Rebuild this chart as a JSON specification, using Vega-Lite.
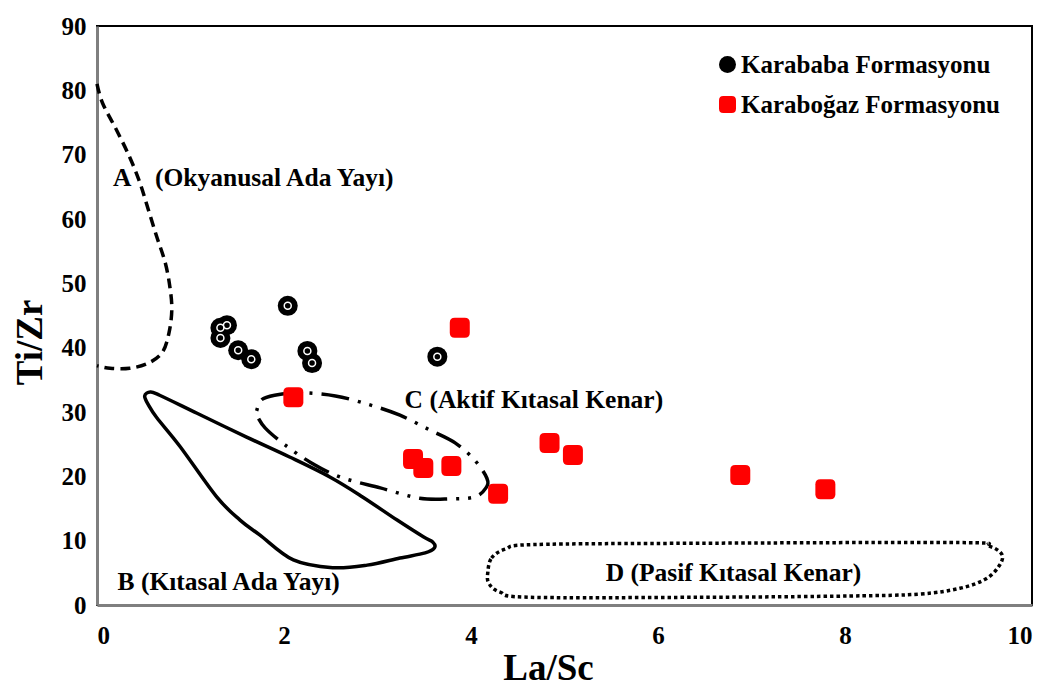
{
  "$schema": "https://vega.github.io/schema/vega-lite/v6.json",
  "width": 935,
  "height": 579,
  "autosize": "none",
  "padding": {"left": 97, "top": 26, "right": 22, "bottom": 86},
  "background": "white",
  "config": {
    "font": "Liberation Serif",
    "view": {"stroke": "black", "strokeWidth": 2},
    "axis": {
      "labelFont": "Liberation Serif",
      "labelFontWeight": "bold",
      "labelFontSize": 25,
      "labelColor": "black",
      "titleFont": "Liberation Serif",
      "titleFontWeight": "bold",
      "titleFontSize": 37,
      "titleColor": "black",
      "ticks": false,
      "grid": false,
      "domainColor": "#7f7f7f",
      "domainWidth": 3
    }
  },
  "datasets": {
    "samples": [
      {"formation": "Karababa Formasyonu", "la_sc": 1.32, "ti_zr": 43.1},
      {"formation": "Karababa Formasyonu", "la_sc": 1.39, "ti_zr": 43.5},
      {"formation": "Karababa Formasyonu", "la_sc": 1.32, "ti_zr": 41.5},
      {"formation": "Karababa Formasyonu", "la_sc": 1.51, "ti_zr": 39.6},
      {"formation": "Karababa Formasyonu", "la_sc": 1.65, "ti_zr": 38.2},
      {"formation": "Karababa Formasyonu", "la_sc": 2.04, "ti_zr": 46.5},
      {"formation": "Karababa Formasyonu", "la_sc": 2.25, "ti_zr": 39.5},
      {"formation": "Karababa Formasyonu", "la_sc": 2.3, "ti_zr": 37.6},
      {"formation": "Karababa Formasyonu", "la_sc": 3.64, "ti_zr": 38.6},
      {"formation": "Karaboğaz Formasyonu", "la_sc": 3.88, "ti_zr": 43.1},
      {"formation": "Karaboğaz Formasyonu", "la_sc": 2.1, "ti_zr": 32.3},
      {"formation": "Karaboğaz Formasyonu", "la_sc": 3.38, "ti_zr": 22.7},
      {"formation": "Karaboğaz Formasyonu", "la_sc": 3.49, "ti_zr": 21.3},
      {"formation": "Karaboğaz Formasyonu", "la_sc": 3.79, "ti_zr": 21.6},
      {"formation": "Karaboğaz Formasyonu", "la_sc": 4.29, "ti_zr": 17.3},
      {"formation": "Karaboğaz Formasyonu", "la_sc": 4.84, "ti_zr": 25.2},
      {"formation": "Karaboğaz Formasyonu", "la_sc": 5.09, "ti_zr": 23.3},
      {"formation": "Karaboğaz Formasyonu", "la_sc": 6.88, "ti_zr": 20.2},
      {"formation": "Karaboğaz Formasyonu", "la_sc": 7.79, "ti_zr": 18.0}
    ],
    "fields": [
      {"region": "A", "i": 0, "la_sc": 0.0, "ti_zr": 81.0},
      {"region": "A", "i": 1, "la_sc": 0.06, "ti_zr": 78.0},
      {"region": "A", "i": 2, "la_sc": 0.21, "ti_zr": 73.8},
      {"region": "A", "i": 3, "la_sc": 0.35, "ti_zr": 69.6},
      {"region": "A", "i": 4, "la_sc": 0.46, "ti_zr": 65.6},
      {"region": "A", "i": 5, "la_sc": 0.55, "ti_zr": 61.4},
      {"region": "A", "i": 6, "la_sc": 0.64, "ti_zr": 57.2},
      {"region": "A", "i": 7, "la_sc": 0.73, "ti_zr": 53.2},
      {"region": "A", "i": 8, "la_sc": 0.78, "ti_zr": 49.4},
      {"region": "A", "i": 9, "la_sc": 0.8, "ti_zr": 45.9},
      {"region": "A", "i": 10, "la_sc": 0.77, "ti_zr": 42.3},
      {"region": "A", "i": 11, "la_sc": 0.7, "ti_zr": 39.3},
      {"region": "A", "i": 12, "la_sc": 0.55, "ti_zr": 37.6},
      {"region": "A", "i": 13, "la_sc": 0.35, "ti_zr": 36.8},
      {"region": "A", "i": 14, "la_sc": 0.14, "ti_zr": 36.8},
      {"region": "A", "i": 15, "la_sc": 0.0, "ti_zr": 37.2},

      {"region": "B", "i": 0, "la_sc": 0.57, "ti_zr": 33.1},
      {"region": "B", "i": 1, "la_sc": 0.51, "ti_zr": 32.5},
      {"region": "B", "i": 2, "la_sc": 0.55, "ti_zr": 31.1},
      {"region": "B", "i": 3, "la_sc": 0.64, "ti_zr": 29.1},
      {"region": "B", "i": 4, "la_sc": 0.89, "ti_zr": 24.6},
      {"region": "B", "i": 5, "la_sc": 1.28, "ti_zr": 16.8},
      {"region": "B", "i": 6, "la_sc": 1.53, "ti_zr": 13.2},
      {"region": "B", "i": 7, "la_sc": 1.74, "ti_zr": 10.9},
      {"region": "B", "i": 8, "la_sc": 2.1, "ti_zr": 7.0},
      {"region": "B", "i": 9, "la_sc": 2.52, "ti_zr": 5.8},
      {"region": "B", "i": 10, "la_sc": 2.89, "ti_zr": 6.2},
      {"region": "B", "i": 11, "la_sc": 3.24, "ti_zr": 7.3},
      {"region": "B", "i": 12, "la_sc": 3.51, "ti_zr": 8.1},
      {"region": "B", "i": 13, "la_sc": 3.61, "ti_zr": 8.9},
      {"region": "B", "i": 14, "la_sc": 3.59, "ti_zr": 9.8},
      {"region": "B", "i": 15, "la_sc": 3.49, "ti_zr": 10.6},
      {"region": "B", "i": 16, "la_sc": 3.21, "ti_zr": 13.2},
      {"region": "B", "i": 17, "la_sc": 2.84, "ti_zr": 16.8},
      {"region": "B", "i": 18, "la_sc": 2.49, "ti_zr": 19.9},
      {"region": "B", "i": 19, "la_sc": 2.06, "ti_zr": 23.0},
      {"region": "B", "i": 20, "la_sc": 1.6, "ti_zr": 26.1},
      {"region": "B", "i": 21, "la_sc": 1.07, "ti_zr": 29.8},
      {"region": "B", "i": 22, "la_sc": 0.67, "ti_zr": 32.6},

      {"region": "C", "i": 0, "la_sc": 1.71, "ti_zr": 30.3},
      {"region": "C", "i": 1, "la_sc": 1.76, "ti_zr": 31.9},
      {"region": "C", "i": 2, "la_sc": 1.9, "ti_zr": 32.6},
      {"region": "C", "i": 3, "la_sc": 2.17, "ti_zr": 33.0},
      {"region": "C", "i": 4, "la_sc": 2.55, "ti_zr": 32.5},
      {"region": "C", "i": 5, "la_sc": 2.92, "ti_zr": 31.1},
      {"region": "C", "i": 6, "la_sc": 3.24, "ti_zr": 29.5},
      {"region": "C", "i": 7, "la_sc": 3.56, "ti_zr": 27.2},
      {"region": "C", "i": 8, "la_sc": 3.83, "ti_zr": 25.2},
      {"region": "C", "i": 9, "la_sc": 4.04, "ti_zr": 22.5},
      {"region": "C", "i": 10, "la_sc": 4.17, "ti_zr": 19.7},
      {"region": "C", "i": 11, "la_sc": 4.16, "ti_zr": 18.2},
      {"region": "C", "i": 12, "la_sc": 4.04, "ti_zr": 16.8},
      {"region": "C", "i": 13, "la_sc": 3.78, "ti_zr": 16.5},
      {"region": "C", "i": 14, "la_sc": 3.45, "ti_zr": 16.6},
      {"region": "C", "i": 15, "la_sc": 3.03, "ti_zr": 18.2},
      {"region": "C", "i": 16, "la_sc": 2.6, "ti_zr": 19.9},
      {"region": "C", "i": 17, "la_sc": 2.28, "ti_zr": 22.2},
      {"region": "C", "i": 18, "la_sc": 2.01, "ti_zr": 24.9},
      {"region": "C", "i": 19, "la_sc": 1.8, "ti_zr": 27.5},
      {"region": "C", "i": 20, "la_sc": 1.71, "ti_zr": 29.5},

      {"region": "D", "i": 0, "la_sc": 4.18, "ti_zr": 5.1},
      {"region": "D", "i": 1, "la_sc": 4.22, "ti_zr": 7.3},
      {"region": "D", "i": 2, "la_sc": 4.37, "ti_zr": 8.7},
      {"region": "D", "i": 3, "la_sc": 4.68, "ti_zr": 9.4},
      {"region": "D", "i": 4, "la_sc": 6.45, "ti_zr": 9.6},
      {"region": "D", "i": 5, "la_sc": 9.23, "ti_zr": 9.7},
      {"region": "D", "i": 6, "la_sc": 9.53, "ti_zr": 9.2},
      {"region": "D", "i": 7, "la_sc": 9.68, "ti_zr": 7.8},
      {"region": "D", "i": 8, "la_sc": 9.64, "ti_zr": 5.9},
      {"region": "D", "i": 9, "la_sc": 9.5, "ti_zr": 4.0},
      {"region": "D", "i": 10, "la_sc": 9.23, "ti_zr": 2.6},
      {"region": "D", "i": 11, "la_sc": 8.8, "ti_zr": 1.7},
      {"region": "D", "i": 12, "la_sc": 8.05, "ti_zr": 1.4},
      {"region": "D", "i": 13, "la_sc": 6.45, "ti_zr": 1.2},
      {"region": "D", "i": 14, "la_sc": 4.63, "ti_zr": 1.2},
      {"region": "D", "i": 15, "la_sc": 4.31, "ti_zr": 2.0},
      {"region": "D", "i": 16, "la_sc": 4.19, "ti_zr": 3.4}
    ],
    "labels": [
      {"text": "A", "la_sc": 0.17, "ti_zr": 66.4},
      {"text": "(Okyanusal Ada Yayı)", "la_sc": 0.62, "ti_zr": 66.4},
      {"text": "B (Kıtasal Ada Yayı)", "la_sc": 0.22, "ti_zr": 3.6},
      {"text": "C (Aktif Kıtasal Kenar)", "la_sc": 3.29, "ti_zr": 31.9},
      {"text": "D (Pasif Kıtasal Kenar)", "la_sc": 5.44, "ti_zr": 5.0}
    ]
  },
  "encoding": {
    "x": {
      "field": "la_sc",
      "type": "quantitative",
      "scale": {"domain": [0, 10], "nice": false},
      "axis": {
        "title": "La/Sc",
        "values": [0, 2, 4, 6, 8, 10],
        "labelPadding": 18,
        "titleBaseline": "middle",
        "titleX": 451,
        "titleY": 63
      }
    },
    "y": {
      "field": "ti_zr",
      "type": "quantitative",
      "scale": {"domain": [0, 90], "nice": false},
      "axis": {
        "title": "Ti/Zr",
        "values": [0, 10, 20, 30, 40, 50, 60, 70, 80, 90],
        "labelPadding": 11,
        "titleBaseline": "middle",
        "titleAngle": -90,
        "titleX": -67,
        "titleY": 316
      }
    }
  },
  "layer": [
    {
      "data": {"name": "fields"},
      "transform": [{"filter": "datum.region === 'A'"}],
      "mark": {"type": "line", "color": "black", "strokeWidth": 3.5, "strokeDash": [10, 6], "interpolate": "cardinal"},
      "encoding": {"order": {"field": "i", "type": "quantitative"}}
    },
    {
      "data": {"name": "fields"},
      "transform": [{"filter": "datum.region === 'B'"}],
      "mark": {"type": "line", "color": "black", "strokeWidth": 3.5, "interpolate": "cardinal-closed"},
      "encoding": {"order": {"field": "i", "type": "quantitative"}}
    },
    {
      "data": {"name": "fields"},
      "transform": [{"filter": "datum.region === 'C'"}],
      "mark": {"type": "line", "color": "black", "strokeWidth": 3.5, "strokeDash": [28, 9, 3, 9, 3, 9], "interpolate": "cardinal-closed"},
      "encoding": {"order": {"field": "i", "type": "quantitative"}}
    },
    {
      "data": {"name": "fields"},
      "transform": [{"filter": "datum.region === 'D'"}],
      "mark": {"type": "line", "color": "black", "strokeWidth": 3.5, "strokeDash": [3.5, 3], "interpolate": "cardinal-closed"},
      "encoding": {"order": {"field": "i", "type": "quantitative"}}
    },
    {
      "data": {"name": "labels"},
      "mark": {"type": "text", "align": "left", "baseline": "middle", "font": "Liberation Serif", "fontWeight": "bold", "fontSize": 25.5, "color": "black"},
      "encoding": {"text": {"field": "text"}}
    },
    {
      "data": {"name": "samples"},
      "mark": {"type": "point", "filled": true, "size": 400, "opacity": 1, "strokeWidth": 0},
      "encoding": {
        "color": {
          "field": "formation",
          "type": "nominal",
          "scale": {"domain": ["Karababa Formasyonu", "Karaboğaz Formasyonu"], "range": ["black", "#ff0000"]},
          "legend": {
            "title": null,
            "orient": "none",
            "legendX": 618,
            "legendY": 26,
            "padding": 0,
            "labelFont": "Liberation Serif",
            "labelFontWeight": "bold",
            "labelFontSize": 25,
            "labelColor": "black",
            "labelOffset": 1,
            "symbolSize": 289,
            "symbolStrokeWidth": 0,
            "rowPadding": 14,
            "labelLimit": 400
          }
        },
        "shape": {
          "field": "formation",
          "type": "nominal",
          "scale": {
            "domain": ["Karababa Formasyonu", "Karaboğaz Formasyonu"],
            "range": ["circle", "M-0.5,-1L0.5,-1Q1,-1 1,-0.5L1,0.5Q1,1 0.5,1L-0.5,1Q-1,1 -1,0.5L-1,-0.5Q-1,-1 -0.5,-1Z"]
          }
        }
      }
    },
    {
      "data": {"name": "samples"},
      "transform": [{"filter": "datum.formation === 'Karababa Formasyonu'"}],
      "mark": {"type": "point", "shape": "circle", "filled": false, "size": 49, "stroke": "white", "strokeWidth": 1.5, "opacity": 1}
    }
  ]
}
